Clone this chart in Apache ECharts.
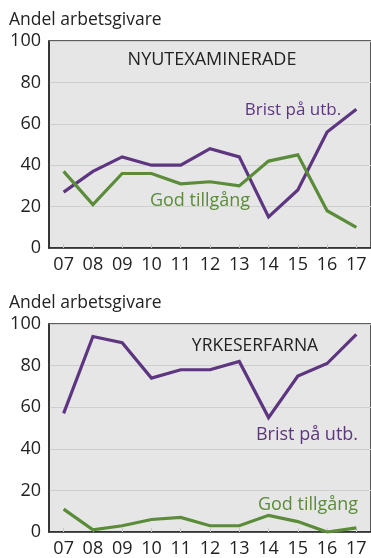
<!DOCTYPE html>
<html>
<head>
<meta charset="utf-8">
<script src="https://cdn.jsdelivr.net/npm/echarts@6/dist/echarts.min.js"></script>
<style>
  html, body { margin: 0; padding: 0; background: #fff; }
  #chart { width: 371px; height: 558px; }
</style>
</head>
<body>
<div id="chart"></div>
<script>
// Years (two-digit) on the category axis
const years = ['07', '08', '09', '10', '11', '12', '13', '14', '15', '16', '17'];

// Share of employers (%), newly graduated
const nyBrist = [27, 37, 44, 40, 40, 48, 44, 15, 28, 56, 67];
const nyGod   = [37, 21, 36, 36, 31, 32, 30, 42, 45, 18, 10];

// Share of employers (%), experienced
const yrBrist = [57, 94, 91, 74, 78, 78, 82, 55, 75, 81, 95];
const yrGod   = [11, 1, 3, 6, 7, 3, 3, 8, 5, 0, 2];

const yTicks = [0, 20, 40, 60, 80, 100];

const PURPLE = '#5d3580';
const GREEN = '#5b8c3a';
const FONT = 'Open Sans';

const chart = echarts.init(document.getElementById('chart'), null, { renderer: 'canvas' });

const grids = [
  { left: 49, top: 41, width: 327, height: 207 },
  { left: 49, top: 324, width: 327, height: 208 }
];

function xAxis(i) {
  return {
    type: 'category', gridIndex: i, data: years, boundaryGap: true,
    axisLine: { show: true, lineStyle: { color: '#2a2a2a', width: 1.5 } },
    axisTick: { show: true, inside: true, alignWithLabel: true, length: 4, lineStyle: { color: '#c8c8c8' } },
    axisLabel: { color: '#222', fontFamily: FONT, fontSize: 18, margin: 8 },
    splitLine: { show: false }
  };
}
function yAxis(i) {
  return {
    type: 'value', gridIndex: i, min: yTicks[0], max: yTicks[yTicks.length - 1], interval: 20,
    axisLine: { show: true, lineStyle: { color: '#2a2a2a', width: 1.5 } },
    axisTick: { show: false },
    axisLabel: { color: '#222', fontFamily: FONT, fontSize: 18, margin: 8 },
    splitLine: { show: true, lineStyle: { color: '#cfcfcf', width: 1 } }
  };
}
function line(i, data, color) {
  return {
    type: 'line', xAxisIndex: i, yAxisIndex: i, data: data,
    symbol: 'none', smooth: false,
    lineStyle: { color: color, width: 3.2, join: 'miter' },
    z: 5
  };
}

function txt(x, y, text, color, size, align) {
  return {
    type: 'text', x: x, y: y, z: 100,
    style: { text: text, fill: color, font: size + 'px "' + FONT + '"', align: align || 'left', verticalAlign: 'middle' }
  };
}

chart.setOption({
  animation: false,
  backgroundColor: '#ffffff',
  grid: grids.map(g => Object.assign({
    show: true, backgroundColor: '#e6e6e6', borderColor: '#2a2a2a', borderWidth: 1.5, containLabel: false
  }, g)),
  xAxis: [xAxis(0), xAxis(1)],
  yAxis: [yAxis(0), yAxis(1)],
  series: [
    line(0, nyBrist, PURPLE),
    line(0, nyGod, GREEN),
    line(1, yrBrist, PURPLE),
    line(1, yrGod, GREEN)
  ],
  graphic: [
    txt(9, 20, 'Andel arbetsgivare', '#222', 17.5),
    txt(9, 303, 'Andel arbetsgivare', '#222', 17.5),
    txt(212, 60, 'NYUTEXAMINERADE', '#222', 18, 'center'),
    txt(293, 110, 'Brist på utb.', PURPLE, 17, 'center'),
    txt(200, 201, 'God tillgång', GREEN, 18, 'center'),
    txt(255, 346, 'YRKESERFARNA', '#222', 17.5, 'center'),
    txt(307, 435, 'Brist på utb.', PURPLE, 18, 'center'),
    txt(308, 505, 'God tillgång', GREEN, 18, 'center')
  ]
});
</script>
</body>
</html>
